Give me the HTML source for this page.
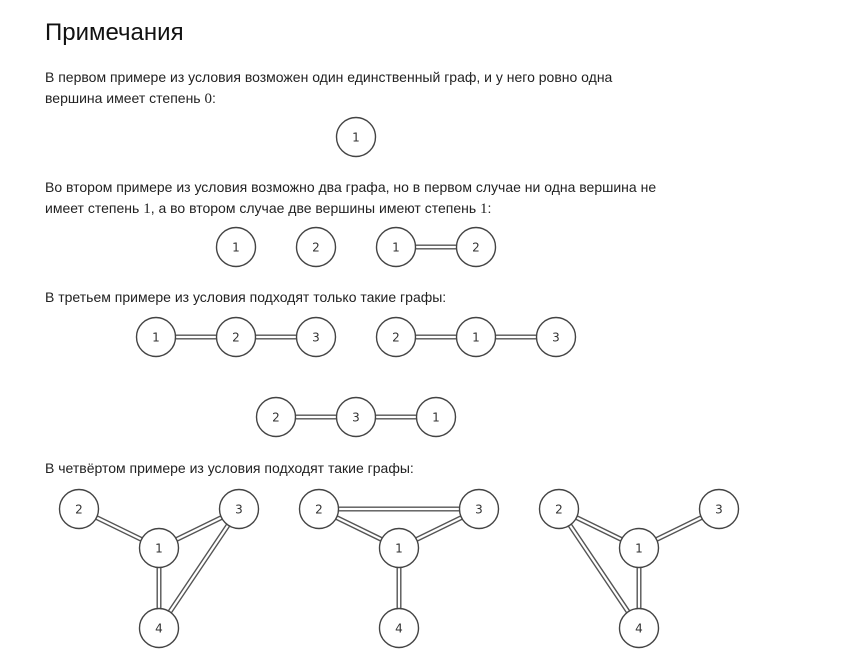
<!DOCTYPE html>
<html><head><meta charset="utf-8"><style>
body{margin:0;background:#fff;width:868px;height:649px;overflow:hidden;position:relative;font-family:"Liberation Sans",sans-serif;color:#222}
.t{position:absolute;left:45px;font-size:14px;line-height:21px;white-space:nowrap}
h1{position:absolute;left:45px;top:18px;margin:0;font-weight:normal;font-size:24px;line-height:30px;color:#111}
.m{font-family:"Liberation Serif",serif;font-size:15px}
svg{position:absolute;left:0;top:0}
</style></head><body>
<h1>Примечания</h1>
<div class="t" style="top:67px">В первом примере из условия возможен один единственный граф, и у него ровно одна<br>вершина имеет степень <span class="m">0</span>:</div>
<div class="t" style="top:177px">Во втором примере из условия возможно два графа, но в первом случае ни одна вершина не<br>имеет степень <span class="m">1</span>, а во втором случае две вершины имеют степень <span class="m">1</span>:</div>
<div class="t" style="top:287px">В третьем примере из условия подходят только такие графы:</div>
<div class="t" style="top:458px">В четвёртом примере из условия подходят такие графы:</div>
<svg width="868" height="649" viewBox="0 0 868 649">
<defs>
<g id="E">
<line x1="396" y1="247" x2="476" y2="247"/>
<line x1="156" y1="337" x2="236" y2="337"/>
<line x1="236" y1="337" x2="316" y2="337"/>
<line x1="396" y1="337" x2="476" y2="337"/>
<line x1="476" y1="337" x2="556" y2="337"/>
<line x1="276" y1="417" x2="356" y2="417"/>
<line x1="356" y1="417" x2="436" y2="417"/>
<line x1="79" y1="509" x2="159" y2="548"/>
<line x1="159" y1="548" x2="239" y2="509"/>
<line x1="159" y1="548" x2="159" y2="628"/>
<line x1="239" y1="509" x2="159" y2="628"/>
<line x1="319" y1="509" x2="479" y2="509"/>
<line x1="319" y1="509" x2="399" y2="548"/>
<line x1="399" y1="548" x2="479" y2="509"/>
<line x1="399" y1="548" x2="399" y2="628"/>
<line x1="559" y1="509" x2="639" y2="548"/>
<line x1="639" y1="548" x2="719" y2="509"/>
<line x1="559" y1="509" x2="639" y2="628"/>
<line x1="639" y1="548" x2="639" y2="628"/>
</g>
</defs>
<use href="#E" stroke="#555" stroke-width="5"/>
<use href="#E" stroke="#fff" stroke-width="2.2"/>
<g fill="#fff" stroke="#444" stroke-width="1.4">
<circle cx="356" cy="137" r="19.5"/>
<circle cx="236" cy="247" r="19.5"/><circle cx="316" cy="247" r="19.5"/><circle cx="396" cy="247" r="19.5"/><circle cx="476" cy="247" r="19.5"/>
<circle cx="156" cy="337" r="19.5"/><circle cx="236" cy="337" r="19.5"/><circle cx="316" cy="337" r="19.5"/>
<circle cx="396" cy="337" r="19.5"/><circle cx="476" cy="337" r="19.5"/><circle cx="556" cy="337" r="19.5"/>
<circle cx="276" cy="417" r="19.5"/><circle cx="356" cy="417" r="19.5"/><circle cx="436" cy="417" r="19.5"/>
<circle cx="79" cy="509" r="19.5"/><circle cx="159" cy="548" r="19.5"/><circle cx="239" cy="509" r="19.5"/><circle cx="159" cy="628" r="19.5"/>
<circle cx="319" cy="509" r="19.5"/><circle cx="399" cy="548" r="19.5"/><circle cx="479" cy="509" r="19.5"/><circle cx="399" cy="628" r="19.5"/>
<circle cx="559" cy="509" r="19.5"/><circle cx="639" cy="548" r="19.5"/><circle cx="719" cy="509" r="19.5"/><circle cx="639" cy="628" r="19.5"/>
</g>
<g text-anchor="middle" font-family="DejaVu Sans,sans-serif" font-size="12" fill="#333">
<text x="356" y="141.5">1</text>
<text x="236" y="251.5">1</text><text x="316" y="251.5">2</text><text x="396" y="251.5">1</text><text x="476" y="251.5">2</text>
<text x="156" y="341.5">1</text><text x="236" y="341.5">2</text><text x="316" y="341.5">3</text>
<text x="396" y="341.5">2</text><text x="476" y="341.5">1</text><text x="556" y="341.5">3</text>
<text x="276" y="421.5">2</text><text x="356" y="421.5">3</text><text x="436" y="421.5">1</text>
<text x="79" y="513.5">2</text><text x="159" y="552.5">1</text><text x="239" y="513.5">3</text><text x="159" y="632.5">4</text>
<text x="319" y="513.5">2</text><text x="399" y="552.5">1</text><text x="479" y="513.5">3</text><text x="399" y="632.5">4</text>
<text x="559" y="513.5">2</text><text x="639" y="552.5">1</text><text x="719" y="513.5">3</text><text x="639" y="632.5">4</text>
</g>
</svg>
</body></html>
